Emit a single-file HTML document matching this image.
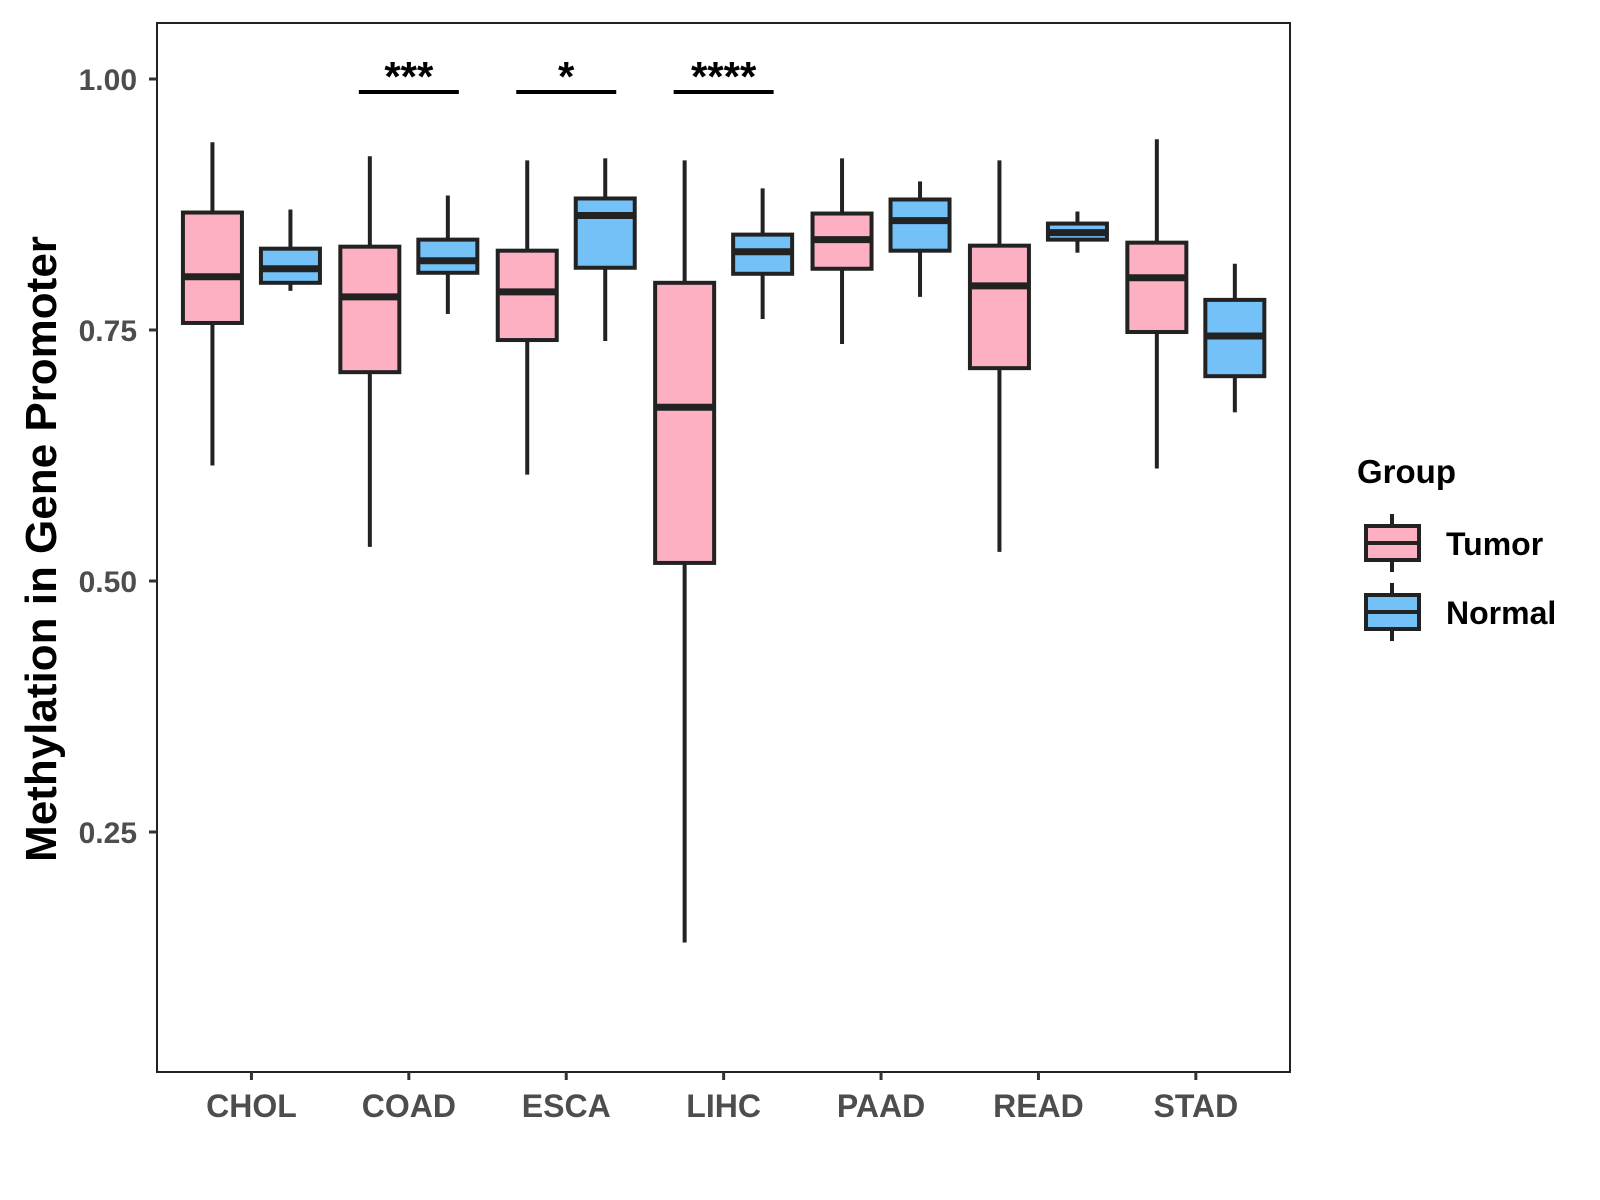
<!DOCTYPE html>
<html><head><meta charset="utf-8"><style>
body{margin:0;background:#fff}
svg{display:block}
text{font-family:"Liberation Sans",Arial,sans-serif;font-weight:bold}
</style></head><body>
<svg id="chart" width="1600" height="1200" viewBox="0 0 1600 1200" xmlns="http://www.w3.org/2000/svg">
<rect x="0" y="0" width="1600" height="1200" fill="#fff"/>
<g id="marks"></g>
<rect x="157" y="23" width="1133" height="1049" fill="none" stroke="#222" stroke-width="2"/>
<text transform="translate(56,549) rotate(-90)" text-anchor="middle" font-size="44" fill="#000">Methylation in Gene Promoter</text>
<g transform="translate(-7,0)">
<text x="1364" y="483" font-size="33" fill="#000">Group</text>
<g>
<line x1="1399" y1="514" x2="1399" y2="572" stroke="#222" stroke-width="4"/>
<rect x="1373" y="526" width="53" height="34" fill="#FCB0C2" stroke="#222" stroke-width="4"/>
<line x1="1373" y1="543" x2="1426" y2="543" stroke="#222" stroke-width="4"/>
<text x="1453" y="555" font-size="32" fill="#000">Tumor</text>
</g>
<g>
<line x1="1399" y1="583" x2="1399" y2="641" stroke="#222" stroke-width="4"/>
<rect x="1373" y="595" width="53" height="34" fill="#74C1F8" stroke="#222" stroke-width="4"/>
<line x1="1373" y1="612" x2="1426" y2="612" stroke="#222" stroke-width="4"/>
<text x="1453" y="624" font-size="32" fill="#000">Normal</text>
</g>
</g>
</svg>
<script>
const categories = ["CHOL","COAD","ESCA","LIHC","PAAD","READ","STAD"];
// [lower whisker, Q1, median, Q3, upper whisker]
const tumorStats = [
 [0.615,0.757,0.803,0.867,0.937],
 [0.534,0.708,0.783,0.833,0.923],
 [0.606,0.740,0.788,0.829,0.919],
 [0.140,0.518,0.673,0.797,0.919],
 [0.736,0.811,0.840,0.866,0.921],
 [0.529,0.712,0.794,0.834,0.919],
 [0.612,0.748,0.802,0.837,0.940]
];
const normalStats = [
 [0.789,0.797,0.811,0.831,0.870],
 [0.766,0.807,0.819,0.840,0.884],
 [0.739,0.812,0.864,0.881,0.921],
 [0.761,0.806,0.828,0.845,0.891],
 [0.783,0.829,0.859,0.880,0.898],
 [0.827,0.840,0.847,0.856,0.868],
 [0.668,0.704,0.744,0.780,0.816]
];
const yTicks = [0.25,0.50,0.75,1.00];
const yTickLabels = ["0.25","0.50","0.75","1.00"];
const sigCategories = ["COAD","ESCA","LIHC"];
const sigLabels = ["***","*","****"];
const sigLevel = 0.987;

const NS="http://www.w3.org/2000/svg";
const svg=document.getElementById('chart');
const g=document.getElementById('marks');
const yS=v=>79+(1-v)*1004;
const bandW=157.4;
const xS=i=>157+bandW*(i+0.6);
function mk(tag,attrs,parent){const e=document.createElementNS(NS,tag);for(const k in attrs)e.setAttribute(k,attrs[k]);(parent||g).appendChild(e);return e;}

yTicks.forEach((v,i)=>{
 const t=mk('line',{x1:149,x2:157,y1:yS(v),y2:yS(v),stroke:'#333','stroke-width':3},svg);
 
 
 const l=mk('text',{x:137,y:yS(v)+11,'text-anchor':'end','font-size':30,fill:'#4d4d4d'},svg);
 l.textContent=yTickLabels[i];
 
 
});
categories.forEach((c,i)=>{
 const t=mk('line',{x1:xS(i),x2:xS(i),y1:1072,y2:1080,stroke:'#333','stroke-width':3},svg);
 
 
 const l=mk('text',{x:xS(i),y:1117,'text-anchor':'middle','font-size':32,fill:'#4d4d4d'},svg);
 l.textContent=c;
 
 
});
function box(cx,s,fill,name){
 const bg=mk('g',{});
 
 
 const w=59;
 mk('line',{x1:cx,x2:cx,y1:yS(s[4]),y2:yS(s[3]),stroke:'#222','stroke-width':4},bg);
 mk('line',{x1:cx,x2:cx,y1:yS(s[1]),y2:yS(s[0]),stroke:'#222','stroke-width':4},bg);
 mk('rect',{x:cx-w/2,y:yS(s[3]),width:w,height:yS(s[1])-yS(s[3]),fill:fill,stroke:'#222','stroke-width':4},bg);
 mk('line',{x1:cx-w/2,x2:cx+w/2,y1:yS(s[2]),y2:yS(s[2]),stroke:'#222','stroke-width':7},bg);
}
categories.forEach((c,i)=>{
 box(xS(i)-39,tumorStats[i],'#FCB0C2','box-'+c.toLowerCase()+'-tumor');
 box(xS(i)+39,normalStats[i],'#74C1F8','box-'+c.toLowerCase()+'-normal');
});
sigCategories.forEach((c,k)=>{
 const i=categories.indexOf(c);
 const ln=mk('line',{x1:xS(i)-50,x2:xS(i)+50,y1:yS(sigLevel),y2:yS(sigLevel),stroke:'#000','stroke-width':4});
 
 
 const t=mk('text',{x:xS(i),y:yS(sigLevel)-1,'text-anchor':'middle','font-size':42,fill:'#000'});
 t.textContent=sigLabels[k];
 
 
});
</script>
</body></html>
